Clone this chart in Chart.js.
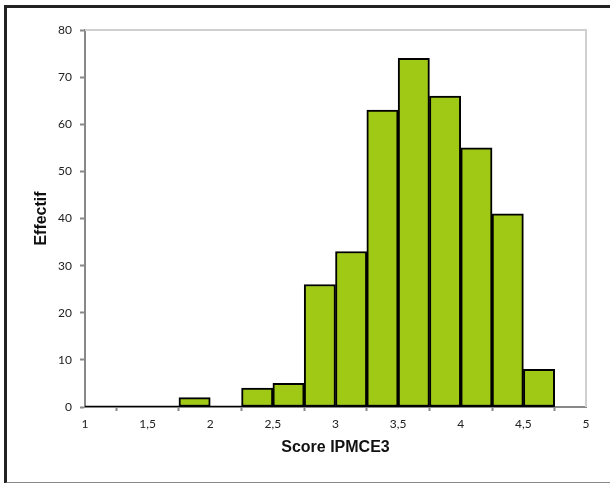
<!DOCTYPE html>
<html>
<head>
<meta charset="utf-8">
<script src="https://cdn.jsdelivr.net/npm/chart.js@4/dist/chart.umd.min.js"></script>
<style>
  html, body { margin: 0; padding: 0; background: #fff; }
  #wrap { position: relative; width: 610px; height: 483px; }
  #frame {
    position: absolute; left: 4px; top: 5px; width: 620px; height: 474px;
    border-left: 3px solid #222; border-top: 3px solid #222; border-bottom: 2px solid #888;
    pointer-events: none;
  }
  canvas { position: absolute; left: 0; top: 0; }
</style>
</head>
<body>
<div id="wrap">
  <canvas id="chart" width="610" height="483"></canvas>
  <div id="frame"></div>
</div>
<script>
// bins of width 0.25, lower edges
const binStart = [1, 1.25, 1.5, 1.75, 2, 2.25, 2.5, 2.75, 3, 3.25, 3.5, 3.75, 4, 4.25, 4.5];
const binWidth = 0.25;
const counts = [0, 0, 0, 2, 0, 4, 5, 26, 33, 63, 74, 66, 55, 41, 8];

const xTitle = "Score IPMCE3";
const yTitle = "Effectif";

loadChart();

function loadChart() {
  let points = binStart.map((s, i) => ({ x: s + binWidth / 2, y: counts[i] }));
  // black outline along the bottom of the bins (empty bins show as a line)
  let lastEdge = binStart[binStart.length - 1] + binWidth;
  let baseline = [{ x: binStart[0], y: 0 }, { x: lastEdge, y: 0 }];

  const plotFrame = {
    id: "plotFrame",
    beforeDatasetsDraw(chart) {
      const a = chart.chartArea;
      const ctx = chart.ctx;
      ctx.save();
      ctx.strokeStyle = "#d0d0d0";
      ctx.lineWidth = 2;
      ctx.beginPath();
      ctx.moveTo(a.left, a.top);
      ctx.lineTo(a.right, a.top);
      ctx.lineTo(a.right, a.bottom);
      ctx.stroke();
      ctx.restore();
    },
  };

  new Chart(document.getElementById("chart").getContext("2d"), {
    type: "bar",
    data: {
      datasets: [
        {
          data: points,
          backgroundColor: "#9fc914",
          borderColor: "#000",
          borderWidth: 2,
          borderSkipped: false,
          barPercentage: 1,
          categoryPercentage: 1,
        },
        {
          type: "line",
          data: baseline,
          borderColor: "#000",
          borderWidth: 2.5,
          pointRadius: 0,
        },
      ],
    },
    options: {
      responsive: false,
      animation: false,
      layout: { padding: { left: 0, right: 24, top: 30, bottom: 0 } },
      plugins: { legend: { display: false }, tooltip: { enabled: false } },
      scales: {
        x: {
          type: "linear",
          min: 1,
          max: 5,
          offset: false,
          afterFit: (s) => { s.height = 76; },
          grid: { drawOnChartArea: false, tickLength: 4, tickColor: "#888", tickWidth: 2 },
          border: { color: "#888", width: 2 },
          ticks: {
            stepSize: 0.5,
            padding: 6,
            color: "#222",
            font: { family: "Lato", size: 12 },
            callback: (v) => String(v).replace(".", ","),
          },
          title: {
            display: true,
            text: xTitle,
            color: "#111",
            font: { family: "Liberation Sans", size: 16, weight: "bold" },
            padding: { top: 0, bottom: 26 },
          },
        },
        y: {
          min: 0,
          max: 80,
          afterFit: (s) => { s.width = 85; },
          grid: { drawOnChartArea: false, tickLength: 5, tickColor: "#888", tickWidth: 2 },
          border: { color: "#888", width: 2 },
          ticks: {
            stepSize: 10,
            padding: 8,
            color: "#222",
            font: { family: "Lato", size: 12 },
          },
          title: {
            display: true,
            text: yTitle,
            color: "#111",
            font: { family: "Liberation Sans", size: 16, weight: "bold" },
            padding: { top: 32, bottom: 0 },
          },
        },
      },
    },
    plugins: [plotFrame],
  });
}
</script>
</body>
</html>
